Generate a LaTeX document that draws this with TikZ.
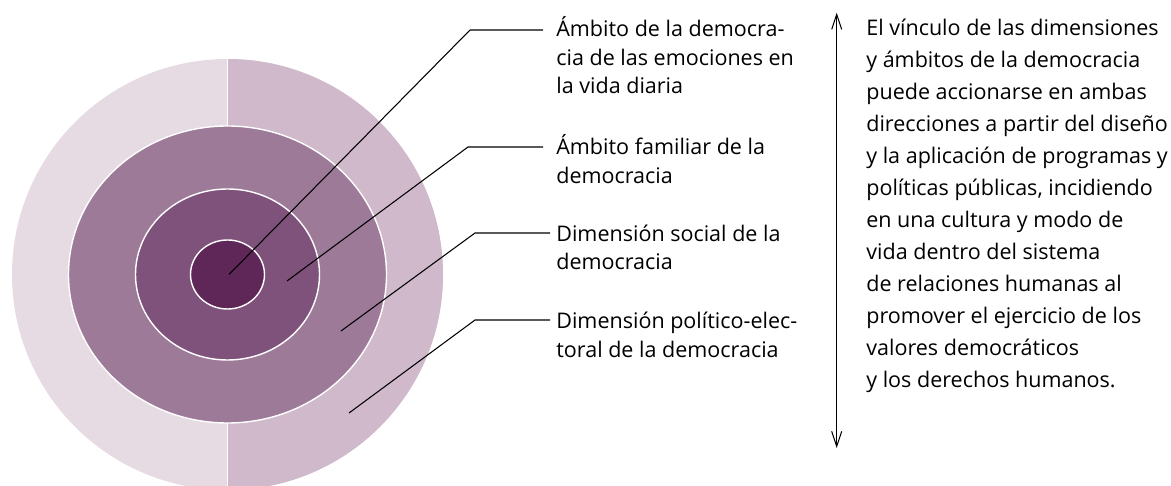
\documentclass[tikz,border=0pt]{standalone}
\usepackage{fontspec}
\setmainfont{Open Sans}
\usepackage{tikz}
\usetikzlibrary{positioning,calc,arrows.meta}

\definecolor{ringA}{HTML}{E6DBE3}
\definecolor{ringB}{HTML}{CFB9CA}
\definecolor{ringC}{HTML}{9E7A99}
\definecolor{ringD}{HTML}{7F527B}
\definecolor{ringE}{HTML}{5E2758}

\tikzset{
    ring/.style={draw=white, line width=0.8pt},
    leader/.style={black, line width=0.6pt},
    lbl/.style={anchor=north west, inner sep=0pt, align=left, font=\fontsize{12.25}{16.3}\selectfont},
    note/.style={anchor=north west, inner sep=0pt, align=left, font=\fontsize{12.25}{18.2}\selectfont}
}

\begin{document}
\begin{tikzpicture}[x=0.02cm, y=-0.02cm]
        \useasboundingbox (0,0) rectangle (1171,486);

        % Rings
        \coordinate (c) at (227.5,274.5);
        \fill[ringA] (c) circle[radius=215.5];
        \begin{scope}
            \clip (227.5,0) rectangle (450,486);
            \fill[ringB] (c) circle[radius=215.5];
        \end{scope}
        \draw[white, line width=0.8pt] (227.5,59) -- (227.5,490);
        \filldraw[ring, fill=ringC] (c) ellipse[x radius=159, y radius=148.5];
        \filldraw[ring, fill=ringD] (c) ellipse[x radius=92, y radius=85.5];
        \filldraw[ring, fill=ringE] (c) ellipse[x radius=37, y radius=34.5];

        % Labels
        \node[lbl] (emo) at (556,16) {Ámbito de la democra-\\cia de las emociones en\\la vida diaria};
        \node[lbl] (fam) at (556,134) {Ámbito familiar de la\\democracia};
        \node[lbl] (soc) at (556,224.5) {Dimensión social de la\\democracia};
        \node[lbl] (pol) at (556,312) {Dimensión político-elec-\\toral de la democracia};

        % Leaders
        \coordinate (p1) at (229,274.5);
        \coordinate (k1) at (470,30);
        \coordinate (p2) at (287,281);
        \coordinate (k2) at (468,147);
        \coordinate (p3) at (341,331);
        \coordinate (k3) at (475,233);
        \coordinate (p4) at (349,413);
        \coordinate (k4) at (475,320);
        \draw[leader, shorten >=0.26cm] (p1) -- (k1) -- (k1 -| emo.west);
        \draw[leader, shorten >=0.26cm] (p2) -- (k2) -- (k2 -| fam.west);
        \draw[leader, shorten >=0.12cm] (p3) -- (k3) -- (k3 -| soc.west);
        \draw[leader, shorten >=0.12cm] (p4) -- (k4) -- (k4 -| pol.west);

        % Both ways
        \coordinate (up) at (836.7,12.7);
        \coordinate (down) at (836.7,448);
        \draw[<->, >={Straight Barb[length=3mm, width=2mm]}, line width=0.6pt] (up) -- (down);
        \node[note] (txt) at (866,18.6) {El vínculo de las dimensiones\\y ámbitos de la democracia\\puede accionarse en ambas\\direcciones a partir del diseño\\y la aplicación de programas y\\políticas públicas, incidiendo\\en una cultura y modo de\\vida dentro del sistema\\de relaciones humanas al\\promover el ejercicio de los\\valores democráticos\\y los derechos humanos.};
\end{tikzpicture}
\end{document}
